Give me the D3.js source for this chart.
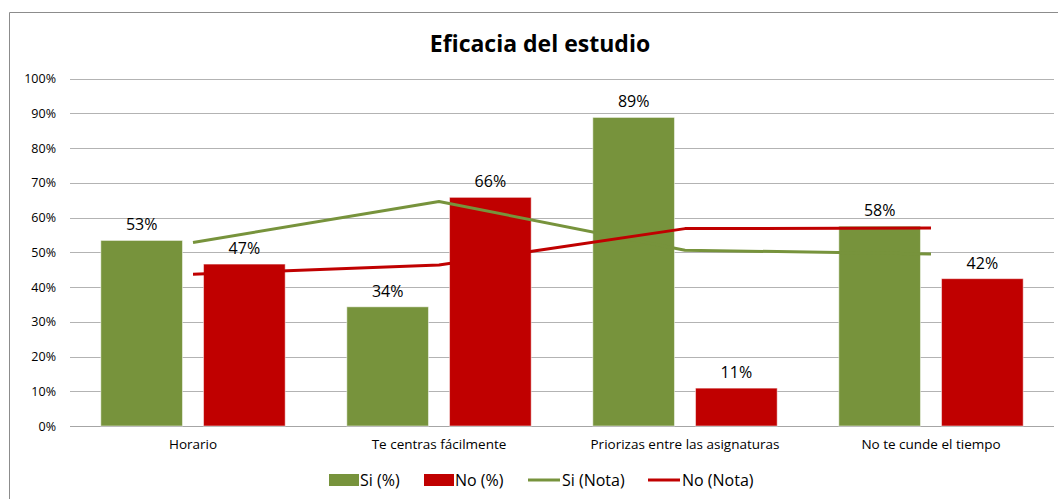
<!DOCTYPE html>
<html><head><meta charset="utf-8">
<script src="https://cdn.jsdelivr.net/npm/d3@7"></script>
<style>body{margin:0;background:#fff}svg{display:block}text{font-family:"Open Sans","Noto Sans",sans-serif}</style>
</head><body><svg id="c" width="1058" height="499"></svg>
<script>
const categories = ["Horario","Te centras fácilmente","Priorizas entre las asignaturas","No te cunde el tiempo"];
const siPct = [53.4, 34.3, 88.8, 57.5];
const noPct = [46.6, 65.8, 10.9, 42.4];
const siNota = [5.28, 6.46, 5.06, 4.95];
const noNota = [4.37, 4.63, 5.68, 5.70];
const yTicks = [0,10,20,30,40,50,60,70,80,90,100];
const series = ["Si (%)","No (%)","Si (Nota)","No (Nota)"];
const GREEN = "#77933C", RED = "#C00000";

const svg = d3.select("#c");
const L = 70, R = 1054, T = 78.5, B = 426;
svg.append("path").attr("d","M9.5,499 V12.5 H1058").attr("fill","none").attr("stroke","#8c8c8c").attr("stroke-width",1);

svg.append("text").attr("x",540).attr("y",52).attr("text-anchor","middle")
  .attr("font-size",23).attr("font-weight","bold").attr("fill","#000").text("Eficacia del estudio");

const x = d3.scaleBand().domain(categories).range([L,R]).paddingInner(0).paddingOuter(0);
const y = d3.scaleLinear().domain([0,100]).range([B,T]);
const y2 = d3.scaleLinear().domain([0,10]).range([B,T]);
const sub = d3.scaleBand().domain(["si","no"]).range([0,x.bandwidth()]).paddingOuter(0.3).paddingInner(0.205);

svg.append("g").selectAll("line").data(yTicks).join("line")
  .attr("x1",L).attr("x2",R).attr("y1",d=>Math.round(y(d))+0.5).attr("y2",d=>Math.round(y(d))+0.5)
  .attr("stroke",d=>d===0?"#a6a6a6":"#b3b3b3").attr("stroke-width",1.2);
svg.append("g").selectAll("text").data(yTicks).join("text")
  .attr("x",56).attr("y",d=>y(d)+4.5).attr("text-anchor","end").attr("font-size",12.5).attr("fill","#000")
  .text(d=>d+"%");

const bars = [{k:"si",v:siPct,c:GREEN},{k:"no",v:noPct,c:RED}];
bars.forEach(s=>{
  const g = svg.append("g");
  g.selectAll("rect").data(categories).join("rect")
    .attr("x",(d)=>x(d)+sub(s.k)).attr("width",sub.bandwidth())
    .attr("y",(d,i)=>y(s.v[i])).attr("height",(d,i)=>B-y(s.v[i]))
    .attr("fill",s.c).attr("stroke","#ffffff").attr("stroke-opacity",0.5).attr("stroke-width",1);
  g.selectAll("text").data(categories).join("text")
    .attr("x",(d)=>x(d)+sub(s.k)+sub.bandwidth()/2).attr("y",(d,i)=>y(s.v[i])-10)
    .attr("text-anchor","middle").attr("font-size",16).attr("fill","#000")
    .text((d,i)=>Math.round(s.v[i])+"%");
});

const line = d3.line().x(d=>x(d.c)+x.bandwidth()/2).y(d=>y2(d.v));
[{v:siNota,c:GREEN},{v:noNota,c:RED}].forEach(s=>{
  svg.append("path").datum(categories.map((c,i)=>({c,v:s.v[i]})))
    .attr("d",line).attr("fill","none").attr("stroke",s.c).attr("stroke-width",3).attr("stroke-linejoin","round");
});

svg.append("g").selectAll("text").data(categories).join("text")
  .attr("x",d=>x(d)+x.bandwidth()/2).attr("y",449).attr("text-anchor","middle")
  .attr("font-size",13.5).attr("fill","#000").text(d=>d);

const leg = svg.append("g");
const lx = [329, 424, 528, 648];
series.forEach((s,i)=>{
  const c = i%2===0?GREEN:RED;
  if(i<2){
    leg.append("rect").attr("x",lx[i]).attr("y",474).attr("width",30).attr("height",12).attr("fill",c);
  } else {
    leg.append("line").attr("x1",lx[i]).attr("x2",lx[i]+32).attr("y1",480).attr("y2",480).attr("stroke",c).attr("stroke-width",3);
  }
  leg.append("text").attr("x",lx[i]+(i<2?31:34)).attr("y",486).attr("font-size",16).attr("fill","#000").text(s);
});
</script></body></html>
